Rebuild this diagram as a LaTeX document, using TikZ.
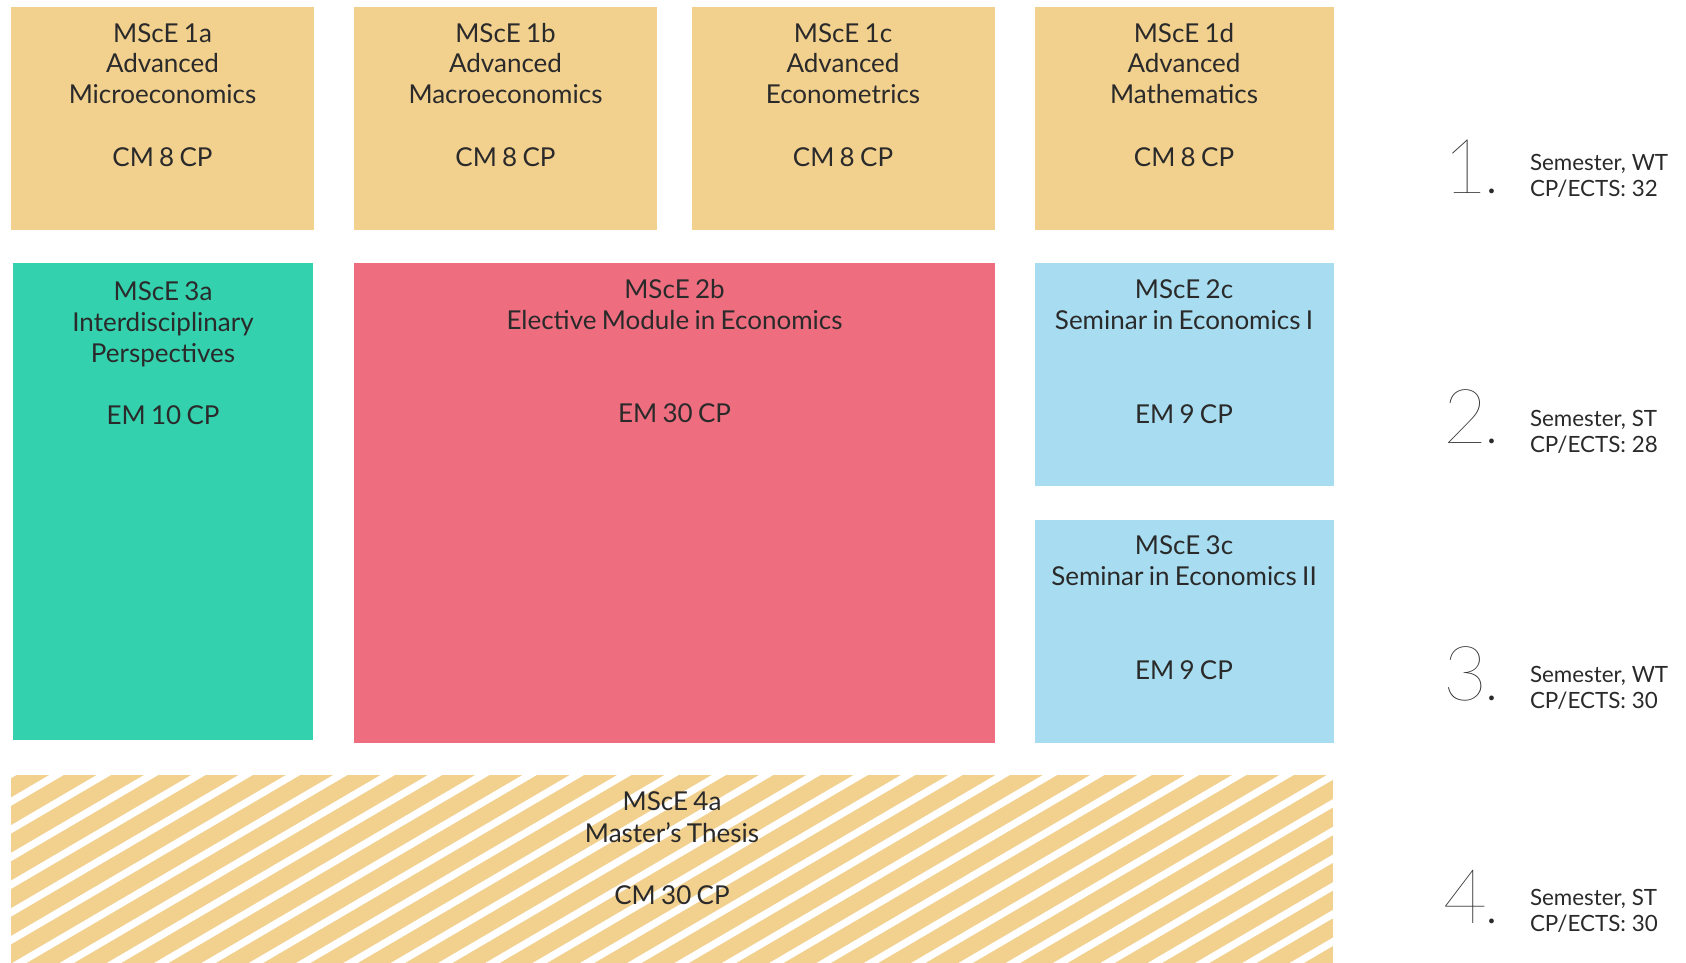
\documentclass[tikz,border=0pt]{standalone}
\usepackage{fontspec}
\setmainfont{Lato}
\newfontfamily\boxfont{Lato}[WordSpace=0.8]
\IfFontExistsTF{Lato Hairline}{\newfontfamily\hairfont{Lato Hairline}}{%
  \IfFontExistsTF{Lato Thin}{\newfontfamily\hairfont{Lato Thin}}{%
    \IfFontExistsTF{Lato Light}{\newfontfamily\hairfont{Lato Light}}{\newfontfamily\hairfont{Lato}}}}
\definecolor{yel}{HTML}{F2D08E}
\definecolor{teal}{HTML}{34D1AE}
\definecolor{rose}{HTML}{EE6E80}
\definecolor{sky}{HTML}{A8DDF1}
\definecolor{ink}{HTML}{2A2A2A}
\tikzset{
  mod/.style={draw=none, inner sep=0pt, outer sep=0pt},
  txt/.style={inner sep=0pt, outer sep=0pt, anchor=north, align=center, text=ink,
    font=\boxfont\fontsize{26}{31}\selectfont},
  rowone/.style={txt, font=\boxfont\fontsize{26}{30.6}\selectfont},
  semtxt/.style={inner sep=0pt, outer sep=0pt, anchor=base west, align=left, text=ink,
    font=\fontsize{22.4}{25.7}\selectfont},
  semnum/.style={inner sep=0pt, outer sep=0pt, anchor=base west, text=ink,
    font=\fontsize{76}{76}\selectfont}
}
\newcommand{\firstline}{\rule{0pt}{22pt}}
\newcommand{\semdot}{{\fontsize{38}{38}\selectfont.}}
\begin{document}
\begin{tikzpicture}[x=1pt,y=-1pt]
\useasboundingbox (0,0) rectangle (1686,962);
% row 1
\node[mod, fill=yel, minimum width=303pt, minimum height=223pt] (b1a) at (162.5,118.5) {};
\node[mod, fill=yel, minimum width=303pt, minimum height=223pt] (b1b) at (505.5,118.5) {};
\node[mod, fill=yel, minimum width=303pt, minimum height=223pt] (b1c) at (843,118.5) {};
\node[mod, fill=yel, minimum width=299pt, minimum height=223pt] (b1d) at (1184,118.5) {};
% rows 2-3
\node[mod, fill=teal, minimum width=300pt, minimum height=477pt] (b3a) at (163,501.5) {};
\node[mod, fill=rose, minimum width=641pt, minimum height=480pt] (b2b) at (674.5,503) {};
\node[mod, fill=sky, minimum width=299pt, minimum height=223pt] (b2c) at (1184,374.5) {};
\node[mod, fill=sky, minimum width=299pt, minimum height=223pt] (b3c) at (1184,631.5) {};
% row 4 (striped)
\node[mod, fill=yel, minimum width=1322pt, minimum height=190pt] (b4a) at (672,870) {};
\begin{scope}
  \clip (b4a.south west) rectangle (b4a.north east);
  \foreach \k in {-1,...,36} {
    \draw[white, line width=7.2pt] (0,{808.1+27.7*\k}) -- ++(1400,-819.7);
  }
\end{scope}
% texts
\node[rowone] (t1a) at ([yshift=-13pt]b1a.north) {\firstline MScE 1a\\Advanced\\Microeconomics\\[32.2pt]CM 8 CP};
\node[rowone] (t1b) at ([yshift=-13pt]b1b.north) {\firstline MScE 1b\\Advanced\\Macroeconomics\\[32.2pt]CM 8 CP};
\node[rowone] (t1c) at ([yshift=-13pt]b1c.north) {\firstline MScE 1c\\Advanced\\Econometrics\\[32.2pt]CM 8 CP};
\node[rowone] (t1d) at ([yshift=-13pt]b1d.north) {\firstline MScE 1d\\Advanced\\Mathematics\\[32.2pt]CM 8 CP};
\node[txt] (t3a) at ([yshift=-15pt]b3a.north) {\firstline MScE 3a\\Interdisciplinary\\Perspectives\\[31.4pt]EM 10 CP};
\node[txt] (t2b) at ([yshift=-13pt]b2b.north) {\firstline MScE 2b\\Elective Module in Economics\\[62.6pt]EM 30 CP};
\node[txt] (t2c) at ([yshift=-13.3pt]b2c.north) {\firstline MScE 2c\\Seminar in Economics I\\[63.4pt]EM 9 CP};
\node[txt] (t3c) at ([yshift=-12.3pt]b3c.north) {\firstline MScE 3c\\Seminar in Economics II\\[63.4pt]EM 9 CP};
\node[txt] (t4a) at ([yshift=-13.9pt]b4a.north) {\firstline MScE 4a\\[1pt]Master’s Thesis\\[30.3pt]CM 30 CP};
% semester labels
\node[semnum] (n1) at (1443,193) {{\hairfont 1}\semdot};
\node[semnum] (n2) at (1443,443) {{\hairfont 2}\semdot};
\node[semnum] (n3) at (1443,700) {{\hairfont 3}\semdot};
\node[semnum] (n4) at (1443,923) {{\hairfont 4}\semdot};
\node[semtxt] (s1) at (1530,170.7) {Semester, WT};
\node[semtxt] (c1) at (1530,196.7) {CP/ECTS: 32};
\node[semtxt] (s2) at (1530,426.5) {Semester, ST};
\node[semtxt] (c2) at (1530,452.2) {CP/ECTS: 28};
\node[semtxt] (s3) at (1530,682.7) {Semester, WT};
\node[semtxt] (c3) at (1530,708.4) {CP/ECTS: 30};
\node[semtxt] (s4) at (1530,905.8) {Semester, ST};
\node[semtxt] (c4) at (1530,931.5) {CP/ECTS: 30};
\end{tikzpicture}
\end{document}
